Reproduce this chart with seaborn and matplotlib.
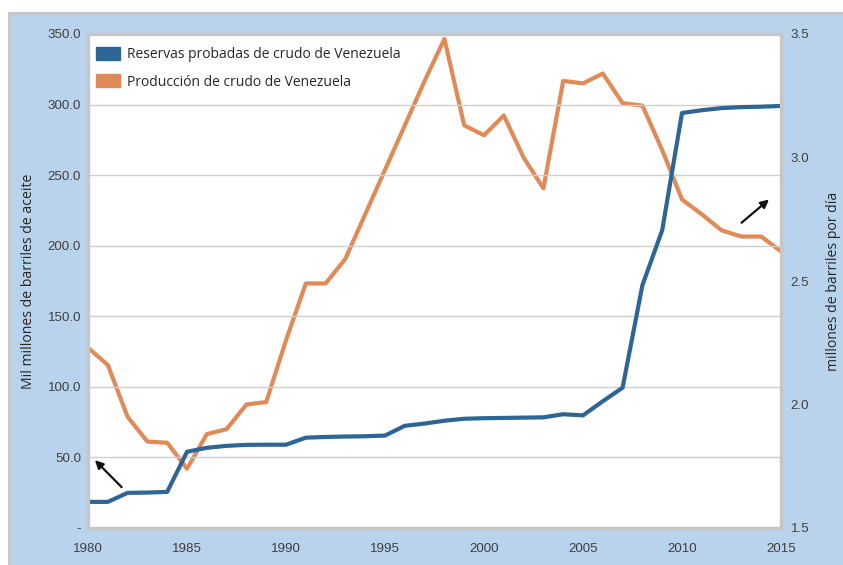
import numpy as np
import pandas as pd
import matplotlib
matplotlib.use("Agg")
import matplotlib.pyplot as plt
import matplotlib.patches as mpatches
import seaborn as sns

# data
years = list(range(1980, 2016))
reservas = [18.5, 18.5, 24.9, 25.1, 25.6, 54.0, 56.8, 58.2, 58.9, 59.0,
            59.0, 64.0, 64.5, 64.8, 65.0, 65.5, 72.4, 74.0, 76.0, 77.4,
            77.8, 78.0, 78.2, 78.4, 80.6, 79.8, 89.8, 99.4, 172.0, 211.0,
            294.0, 296.0, 297.5, 298.2, 298.5, 299.0]
produccion = [2.23, 2.16, 1.95, 1.85, 1.845, 1.74, 1.88, 1.90, 2.00, 2.01,
              2.26, 2.49, 2.49, 2.59, 2.77, 2.95, 3.13, 3.31, 3.48, 3.13,
              3.09, 3.17, 3.00, 2.875, 3.31, 3.30, 3.34, 3.22, 3.21, 3.03,
              2.83, 2.77, 2.705, 2.68, 2.68, 2.62]

left_ticks = [0, 50, 100, 150, 200, 250, 300, 350]
left_labels = ["-", "50.0", "100.0", "150.0", "200.0", "250.0", "300.0", "350.0"]
right_ticks = [1.5, 2.0, 2.5, 3.0, 3.5]
x_ticks = list(range(1980, 2016, 5))

df = pd.DataFrame({"year": years, "reservas": reservas, "produccion": produccion})

blue = "#2d6594"
orange = "#e08a57"
bg = "#b9d3ec"
frame = "#c6c6c6"
tick_col = "#3f3f3f"

sns.set_style("white")
plt.rcParams["font.family"] = ["Liberation Sans", "DejaVu Sans"]

fig = plt.figure(figsize=(8.43, 5.65), dpi=100, facecolor="white")
# light blue panel behind the chart
fig.patches.append(mpatches.Rectangle((9 / 843, -0.02), 1.0, 1 - 13 / 565 + 0.02,
                                      transform=fig.transFigure, facecolor=bg,
                                      edgecolor=frame, linewidth=2.2, zorder=-5))

ax = fig.add_axes([88 / 843, 1 - 528 / 565, (781 - 88) / 843, (528 - 34) / 565])
ax2 = ax.twinx()
ax2.set_zorder(1)
ax.set_zorder(2)
ax.patch.set_visible(False)
ax2.patch.set_visible(True)
ax2.set_facecolor("white")

sns.lineplot(data=df, x="year", y="produccion", ax=ax2, color=orange, linewidth=3)
sns.lineplot(data=df, x="year", y="reservas", ax=ax, color=blue, linewidth=3)

ax.set_xlim(1980, 2015)
ax.set_ylim(0, 350)
ax2.set_ylim(1.5, 3.5)

ax.set_yticks(left_ticks)
ax.set_yticklabels(left_labels)
ax2.set_yticks(right_ticks)
ax2.set_yticklabels([f"{v:.1f}" for v in right_ticks])
ax.set_xticks(x_ticks)
ax.set_xticklabels([str(x) for x in x_ticks])

ax.grid(axis="y", color="#cfcfcf", linewidth=1)
ax.grid(axis="x", visible=False)
ax2.grid(False)

for a in (ax, ax2):
    a.tick_params(length=0, labelsize=9.6, labelcolor=tick_col)
    for s in a.spines.values():
        s.set_color(frame)
        s.set_linewidth(2.3)
ax.tick_params(axis="y", pad=5)
ax2.tick_params(axis="y", pad=7)
ax.tick_params(axis="x", pad=11)

ax.set_xlabel("")
ax.set_ylabel("Mil millones de barriles de aceite", fontsize=10.1,
              family="Open Sans", labelpad=8)
ax2.set_ylabel("millones de barriles por día", fontsize=10.1,
               family="Open Sans", labelpad=12)

handles = [mpatches.Patch(color=blue, label="Reservas probadas de crudo de Venezuela"),
           mpatches.Patch(color=orange, label="Producción de crudo de Venezuela")]
ax.legend(handles=handles, loc="upper left", frameon=False,
          prop={"family": "Open Sans", "size": 10}, handlelength=1.7,
          handleheight=1.1, handletextpad=0.5, labelspacing=0.85,
          borderaxespad=0.0, bbox_to_anchor=(0.004, 0.985))

ax.annotate("", xy=(1980.25, 49.5), xytext=(1981.8, 27.5),
            arrowprops=dict(arrowstyle="-|>", color="#111111", lw=1.6, mutation_scale=12))
ax.annotate("", xy=(2014.5, 234), xytext=(2012.9, 215),
            arrowprops=dict(arrowstyle="-|>", color="#111111", lw=1.6, mutation_scale=12))

fig.savefig("out.png", dpi=100, facecolor="white")
